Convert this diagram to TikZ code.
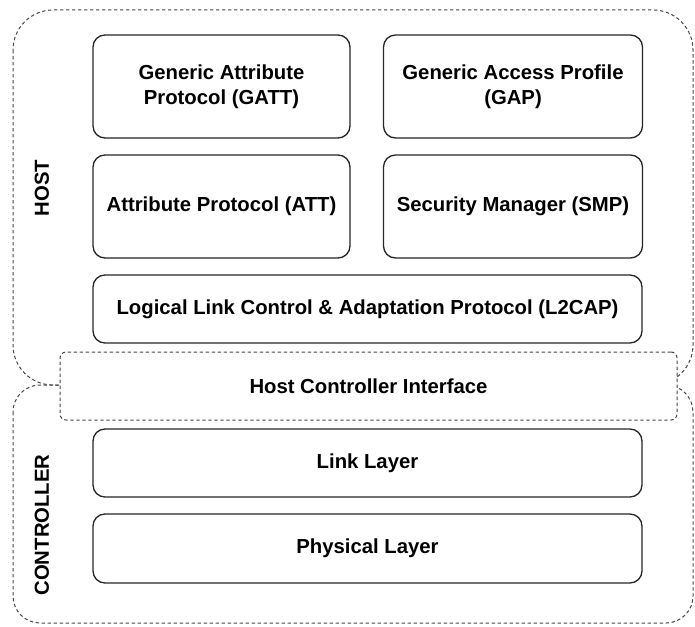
\documentclass[tikz,border=0pt]{standalone}
\usepackage{fontspec}
\setmainfont{Liberation Sans}
\begin{document}
\begin{tikzpicture}[x=1pt,y=-1pt,
  zone/.style={draw=black!72, line width=1pt, dash pattern=on 3.4pt off 2.6pt},
  layer/.style={draw=black!85, line width=1.3pt, rounded corners=12pt, fill=white,
    align=center, inner sep=0pt, font=\fontsize{20.3}{25}\selectfont\bfseries},
  side/.style={rotate=90, font=\fontsize{20.3}{25}\selectfont\bfseries}]
\useasboundingbox (0,0) rectangle (695,626);
% outer dashed regions
\draw[zone, rounded corners=40pt] (13,10) rectangle (693,385);
\draw[zone, rounded corners=27pt] (13,385) rectangle (693,623);
% host controller interface, over the joint of the two regions
\node[layer, zone, rounded corners=6pt, minimum width=617pt, minimum height=68pt]
  (hci) at (368.5,386) {Host Controller Interface};
% host layers
\node[layer, minimum width=257pt, minimum height=103pt] (gatt) at (221.5,86.5)
  {Generic Attribute\\Protocol (GATT)};
\node[layer, minimum width=259pt, minimum height=103pt] (gap) at (513,86.5)
  {Generic Access Profile\\(GAP)};
\node[layer, minimum width=257pt, minimum height=103pt] (att) at (221.5,206.5)
  {Attribute Protocol (ATT)};
\node[layer, minimum width=259pt, minimum height=103pt] (smp) at (513,206.5)
  {Security Manager (SMP)};
\node[layer, minimum width=549pt, minimum height=68pt] (l2cap) at (367.5,309)
  {Logical Link Control \& Adaptation Protocol (L2CAP)};
% controller layers
\node[layer, minimum width=549pt, minimum height=68pt] (ll) at (367.5,463)
  {Link Layer};
\node[layer, minimum width=549pt, minimum height=69pt] (phy) at (367.5,548.5)
  {Physical Layer};
% region labels
\node[side] (host) at (42,188) {HOST};
\node[side] (ctrl) at (42,525) {CONTROLLER};
\end{tikzpicture}
\end{document}
